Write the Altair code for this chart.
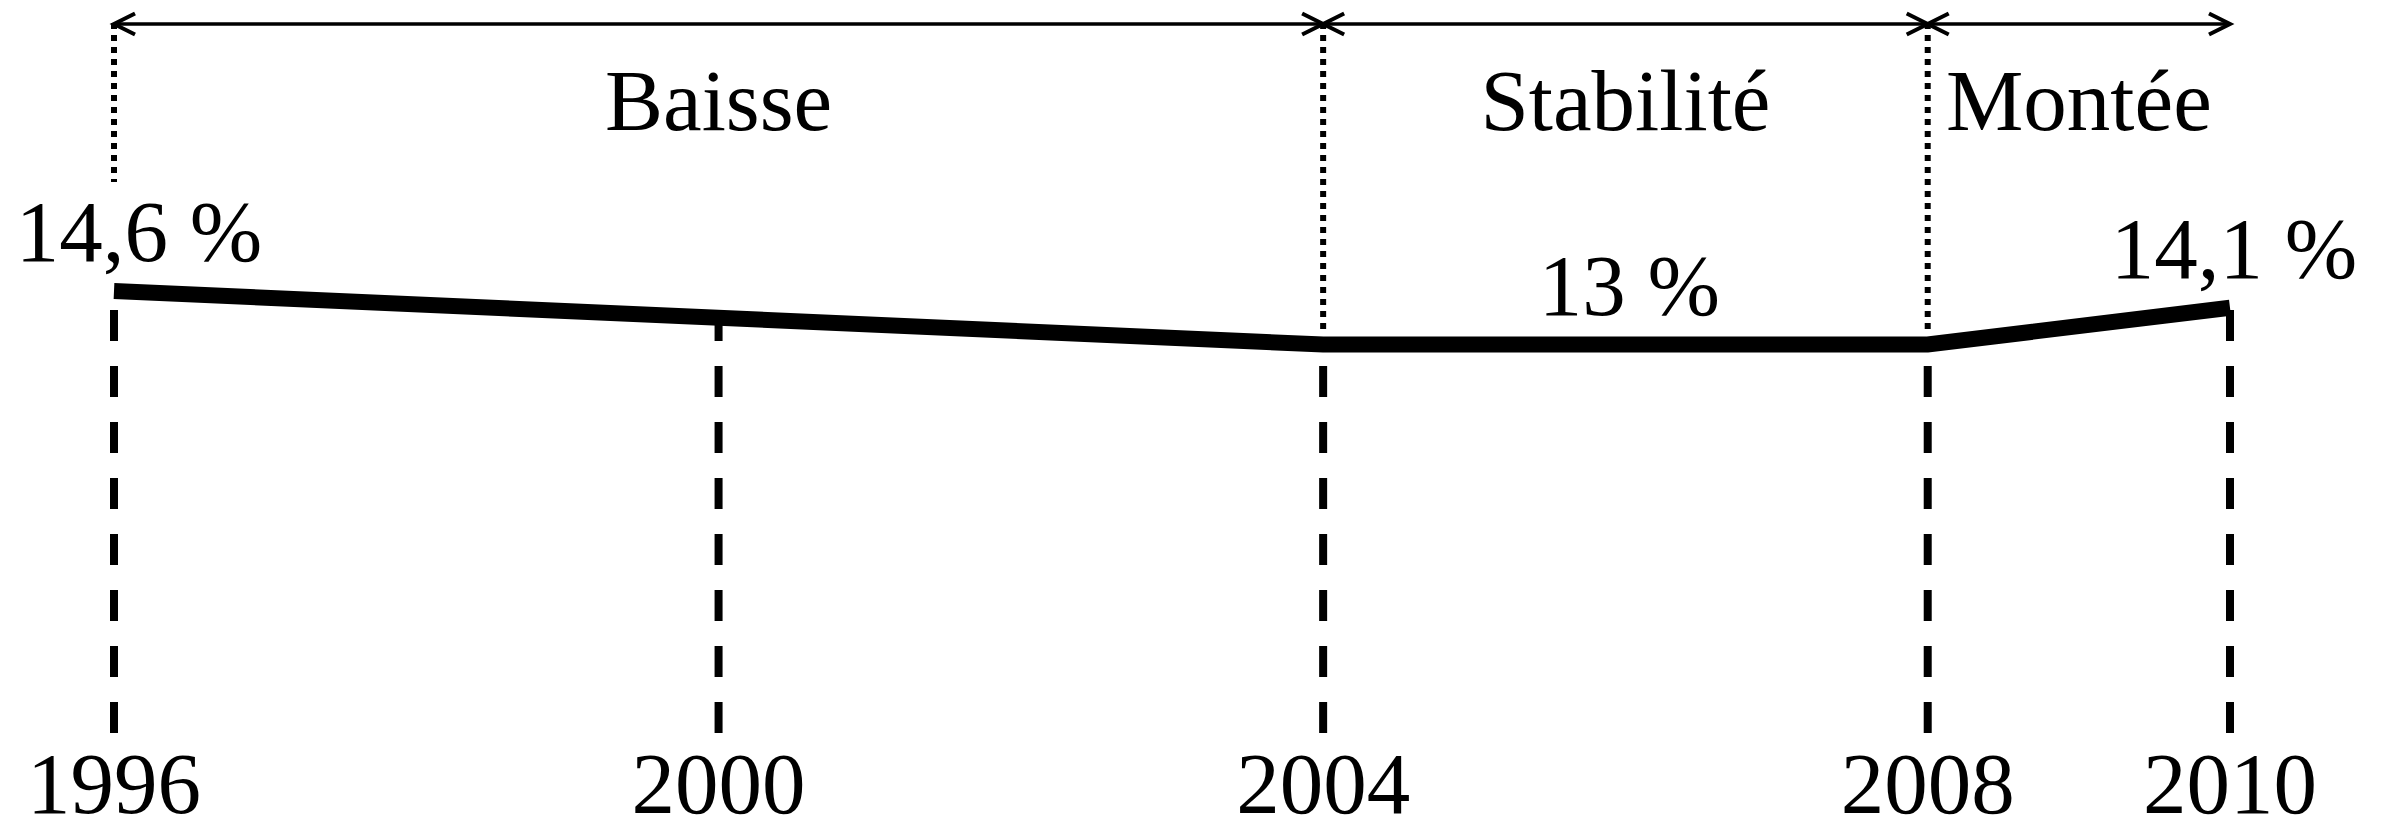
import altair as alt
import pandas as pd

# --- data ---
line_years = [1996, 2004, 2008, 2010]
line_rates = [14.6, 13.0, 13.0, 14.1]

tick_years = [1996, 2000, 2004, 2008, 2010]
tick_tops = [14.6, 13.8, 13.0, 13.0, 14.1]
tick_labels = ["1996", "2000", "2004", "2008", "2010"]

phase_starts = [1996, 2004, 2008]
phase_ends = [2004, 2008, 2010]
phase_names = ["Baisse", "Stabilité", "Montée"]

value_label_years = [1996, 2006, 2010]
value_label_rates = [14.6, 13.0, 14.1]
value_label_texts = ["14,6 %", "13 %", "14,1 %"]

# --- tables ---
line_df = pd.DataFrame({"year": line_years, "rate": line_rates})
tick_df = pd.DataFrame({"year": tick_years, "top": tick_tops, "label": tick_labels})
phase_df = pd.DataFrame({"start": phase_starts, "end": phase_ends, "name": phase_names})
vlab_df = pd.DataFrame({"year": value_label_years, "rate": value_label_rates,
                        "text": value_label_texts})

FONT = "Liberation Serif"
FS = 87

x_scale = alt.Scale(domain=[1996, 2010], range=[106, 2222], nice=False, zero=False)
y_scale = alt.Scale(domain=[13, 14.6], range=[336.5, 283], nice=False, zero=False)
floor_value = 13 - (725 - 336.5) * 1.6 / 53.5

X = lambda f: alt.X(f, scale=x_scale, axis=None)
Y = lambda f: alt.Y(f, scale=y_scale, axis=None)

dashed = alt.Chart(tick_df).transform_calculate(
    floor=f"{floor_value:.4f}"
).mark_rule(
    color="black", strokeWidth=8, strokeDash=[31, 25], strokeCap="butt"
).encode(
    x=X("year:Q"),
    y=Y("floor:Q"),
    y2="top:Q",
)

sep_base = alt.Chart(phase_df).mark_rule(
    color="black", strokeWidth=6, strokeDash=[6, 6], strokeCap="butt"
)
dotted_first = sep_base.transform_filter("datum.start == 1996").encode(
    x=X("start:Q"), y=alt.value(15), y2=alt.value(174)
)
dotted_rest = sep_base.transform_filter("datum.start > 1996").encode(
    x=X("start:Q"), y=alt.value(15), y2=alt.value(322)
)

line = alt.Chart(line_df).mark_line(
    color="black", strokeWidth=16, strokeCap="butt", strokeJoin="miter"
).encode(x=X("year:Q"), y=Y("rate:Q"))

vtext = dict(font=FONT, fontSize=FS, color="black", align="center",
             baseline="alphabetic", dy=-30)
vlab_first = alt.Chart(vlab_df).transform_filter("datum.year == 1996").mark_text(
    dx=25, **vtext
).encode(x=X("year:Q"), y=Y("rate:Q"), text="text:N")
vlab_rest = alt.Chart(vlab_df).transform_filter("datum.year > 1996").mark_text(
    dx=4, **vtext
).encode(x=X("year:Q"), y=Y("rate:Q"), text="text:N")

year_text = alt.Chart(tick_df).mark_text(
    font=FONT, fontSize=FS, color="black", align="center", baseline="alphabetic"
).encode(x=X("year:Q"), y=alt.value(805), text="label:N")

phase_text = alt.Chart(phase_df).transform_calculate(
    mid="(datum.start + datum.end) / 2"
).mark_text(
    font=FONT, fontSize=FS, color="black", align="center", baseline="alphabetic"
).encode(x=X("mid:Q"), y=alt.value(122), text="name:N")

arrows = alt.Chart(phase_df).mark_rule(color="black", strokeWidth=3.5).encode(
    x=X("start:Q"), x2="end:Q", y=alt.value(16)
)
head_left = alt.Chart(phase_df).mark_point(
    shape="M 1 -0.5 L 0 0 L 1 0.5", size=1764, filled=False,
    color="black", strokeWidth=4, opacity=1
).encode(x=X("start:Q"), y=alt.value(16))
head_right = alt.Chart(phase_df).mark_point(
    shape="M -1 -0.5 L 0 0 L -1 0.5", size=1764, filled=False,
    color="black", strokeWidth=4, opacity=1
).encode(x=X("end:Q"), y=alt.value(16))

chart = alt.layer(
    dashed, dotted_first, dotted_rest, line, vlab_first, vlab_rest,
    year_text, phase_text, arrows, head_left, head_right
).properties(
    width=2368, height=824, padding=0, background="white",
    autosize=alt.AutoSizeParams(type="none")
).configure_view(stroke=None)

chart.save("out.html", embed_options={"renderer": "svg", "actions": False})
